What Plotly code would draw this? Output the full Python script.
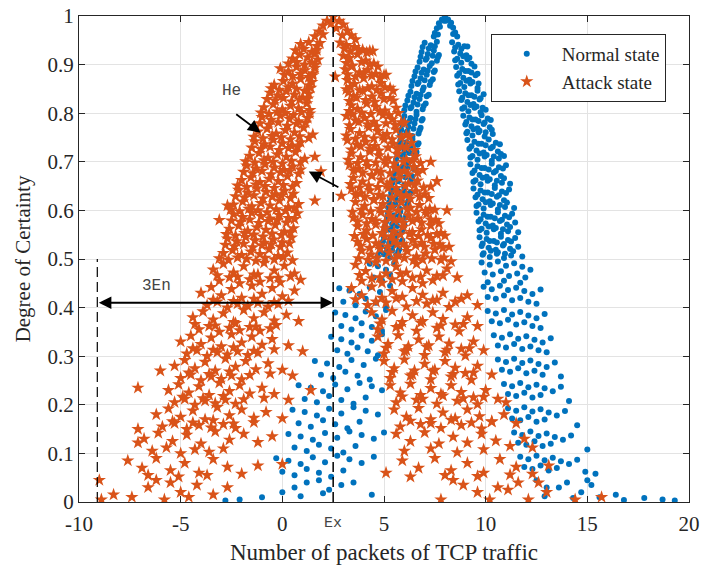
import plotly.graph_objects as go

# ================= data =================
# ---- Attack state (orange stars), upper part (y >= 0.5), band by band ----
attack_upper_x = [
    2.5, 2.2, 2.8, 2.0, 3.0, 2.4, 2.65, 1.8, 3.2, 2.95, 1.6, 3.4, 2.0, 3.6,
    0.9, 1.3, 1.7, 1.85, 2.85, 3.15, 3.55, 3.95, 4.3, 0.5, 0.85, 1.25, 1.6, 1.75, 3.0, 3.3, 3.7, 4.1, 4.5,
    -0.1, 0.3, 0.7, 1.1, 1.5, 1.6, 3.1, 3.4, 3.8, 4.2, 4.6, 5.0, -0.4, 0.05, 0.5, 0.9, 1.3, 1.45, 3.2, 3.55, 4.0, 4.4, 4.85, 5.3,
    -0.6, -0.2, 0.2, 0.6, 1.0, 1.3, 3.25, 3.5, 3.95, 4.4, 4.85, 5.3, -0.9, -0.45, 0.0, 0.4, 0.8, 1.2, 1.35, 3.4, 3.7, 4.15, 4.6, 5.05, 5.6,
    -1.0, -0.55, -0.1, 0.35, 0.8, 1.25, 3.15, 3.6, 4.05, 4.5, 4.95, 5.4, 5.85, -1.2, -0.75, -0.3, 0.15, 0.6, 1.05, 1.5, 3.35, 3.8, 4.25, 4.7, 5.15, 5.6, 6.1,
    -1.35, -0.9, -0.45, 0.0, 0.45, 0.9, 3.2, 3.65, 4.1, 4.55, 5.0, 5.45, 5.9, 6.35, -1.6, -1.15, -0.7, -0.25, 0.2, 0.65, 1.1, 3.4, 3.85, 4.3, 4.75, 5.2, 5.65, 6.1, 6.55,
    -1.75, -1.3, -0.85, -0.4, 0.05, 0.5, 0.9, 3.3, 3.75, 4.2, 4.65, 5.1, 5.55, 6.0, 6.45, 6.9, -2.0, -1.55, -1.1, -0.65, -0.2, 0.25, 0.7, 3.5, 3.95, 4.4, 4.85, 5.3, 5.75, 6.2, 6.65,
    -2.15, -1.7, -1.25, -0.8, -0.35, 0.1, 0.55, 3.4, 3.85, 4.3, 4.75, 5.2, 5.65, 6.1, 6.55, 7.0, -2.4, -1.95, -1.5, -1.05, -0.6, -0.15, 0.3, 0.8, 3.6, 4.05, 4.5, 4.95, 5.4, 5.85, 6.3, 6.75, 7.25,
    -2.4, -1.95, -1.5, -1.05, -0.6, -0.15, 0.3, 0.75, 3.5, 3.95, 4.4, 4.85, 5.3, 5.75, 6.2, 6.65, 7.1, 7.55, -2.6, -2.15, -1.7, -1.25, -0.8, -0.35, 0.1, 0.55, 3.7, 4.15, 4.6, 5.05, 5.5, 5.95, 6.4, 6.85, 7.3, 7.8,
    -2.7, -2.25, -1.8, -1.35, -0.9, -0.45, 0.0, 0.45, 3.7, 4.15, 4.6, 5.05, 5.5, 5.95, 6.4, 6.85, 7.3, 7.75, -2.9, -2.45, -2.0, -1.55, -1.1, -0.65, -0.2, 0.25, 3.9, 4.35, 4.8, 5.25, 5.7, 6.15, 6.6, 7.05, 7.5, 7.95, 8.2,
    2.6, 1.6, 1.9, 2.9, 1.6, 7.6, 8.1, 7.3, -2.7, -3.1,
]
attack_upper_y = [
    0.998, 0.99, 0.99, 0.98, 0.982, 0.985, 0.975, 0.968, 0.97, 0.96, 0.958, 0.96, 0.962, 0.952,
    0.942, 0.946, 0.938, 0.944, 0.945, 0.94, 0.936, 0.93, 0.928, 0.912, 0.92, 0.915, 0.922, 0.91, 0.918, 0.913, 0.921, 0.908, 0.902,
    0.892, 0.886, 0.895, 0.888, 0.882, 0.893, 0.89, 0.896, 0.884, 0.889, 0.881, 0.878, 0.858, 0.866, 0.861, 0.87, 0.857, 0.864, 0.868, 0.86, 0.872, 0.855, 0.862, 0.852,
    0.842, 0.836, 0.845, 0.838, 0.832, 0.84, 0.843, 0.835, 0.846, 0.834, 0.84, 0.831, 0.812, 0.818, 0.808, 0.815, 0.81, 0.82, 0.806, 0.816, 0.809, 0.82, 0.813, 0.805, 0.811,
    0.792, 0.786, 0.795, 0.788, 0.783, 0.79, 0.794, 0.785, 0.79, 0.782, 0.796, 0.787, 0.781, 0.762, 0.768, 0.758, 0.765, 0.76, 0.77, 0.756, 0.767, 0.759, 0.771, 0.763, 0.757, 0.766, 0.755,
    0.742, 0.736, 0.745, 0.738, 0.733, 0.74, 0.744, 0.735, 0.741, 0.732, 0.746, 0.737, 0.731, 0.739, 0.712, 0.718, 0.708, 0.715, 0.71, 0.72, 0.706, 0.717, 0.709, 0.721, 0.713, 0.707, 0.716, 0.705, 0.711,
    0.692, 0.686, 0.695, 0.688, 0.683, 0.69, 0.684, 0.694, 0.685, 0.691, 0.682, 0.696, 0.687, 0.681, 0.689, 0.683, 0.662, 0.668, 0.658, 0.665, 0.66, 0.67, 0.656, 0.667, 0.659, 0.671, 0.663, 0.657, 0.666, 0.655, 0.661,
    0.642, 0.636, 0.645, 0.638, 0.633, 0.64, 0.634, 0.644, 0.635, 0.641, 0.632, 0.646, 0.637, 0.631, 0.639, 0.633, 0.612, 0.618, 0.608, 0.615, 0.61, 0.62, 0.606, 0.613, 0.617, 0.609, 0.621, 0.613, 0.607, 0.616, 0.605, 0.611, 0.603,
    0.592, 0.586, 0.595, 0.588, 0.583, 0.59, 0.584, 0.594, 0.585, 0.591, 0.582, 0.596, 0.587, 0.581, 0.589, 0.583, 0.593, 0.58, 0.562, 0.568, 0.558, 0.565, 0.56, 0.57, 0.556, 0.563, 0.567, 0.559, 0.571, 0.563, 0.557, 0.566, 0.555, 0.561, 0.569, 0.553,
    0.542, 0.536, 0.545, 0.538, 0.533, 0.54, 0.534, 0.544, 0.535, 0.541, 0.532, 0.546, 0.537, 0.531, 0.539, 0.533, 0.543, 0.53, 0.512, 0.518, 0.508, 0.515, 0.51, 0.52, 0.506, 0.513, 0.517, 0.509, 0.521, 0.513, 0.507, 0.516, 0.505, 0.511, 0.519, 0.503, 0.525,
    0.875, 0.71, 0.68, 0.63, 0.62, 0.66, 0.60, 0.70, 0.61, 0.58,
]

# ---- Attack state, extra drops inside the dense bands ----
attack_dense_x = [
    0.65, 1.05, 1.45, 1.7, 3.05, 3.35, 3.75, 4.15, 4.45, 0.3, 0.7, 1.1, 1.45, 1.6, 3.15, 3.45, 3.9, 4.3, 4.7,
    0.1, 0.5, 0.9, 1.3, 1.5, 3.2, 3.6, 4.0, 4.4, 4.8, 5.1, -0.55, -0.15, 0.3, 0.7, 1.1, 1.4, 3.15, 3.35, 3.8, 4.2, 4.65, 5.05, 5.45,
    -0.75, -0.35, 0.05, 0.45, 0.85, 1.25, 3.3, 3.65, 4.1, 4.55, 5.0, 5.45, -1.05, -0.65, -0.25, 0.15, 0.55, 0.95, 1.35, 3.3, 3.45, 3.9, 4.35, 4.8, 5.25, 5.7,
    -1.1, -0.65, -0.2, 0.25, 0.7, 1.15, 3.3, 3.75, 4.2, 4.65, 5.1, 5.55, 6.0, -1.4, -0.95, -0.5, -0.05, 0.4, 0.85, 1.3, 3.15, 3.6, 4.05, 4.5, 4.95, 5.4, 5.85, 6.25,
    -1.5, -1.05, -0.6, -0.15, 0.3, 0.75, 3.4, 3.85, 4.3, 4.75, 5.2, 5.65, 6.1, 6.5, -1.8, -1.35, -0.9, -0.45, 0.0, 0.45, 0.9, 3.25, 3.7, 4.15, 4.6, 5.05, 5.5, 5.95, 6.4, 6.8,
    -1.9, -1.45, -1.0, -0.55, -0.1, 0.35, 0.8, 3.5, 3.95, 4.4, 4.85, 5.3, 5.75, 6.2, 6.65, -2.2, -1.75, -1.3, -0.85, -0.4, 0.05, 0.5, 3.35, 3.8, 4.25, 4.7, 5.15, 5.6, 6.05, 6.5, 6.95, 7.3,
    -2.3, -1.85, -1.4, -0.95, -0.5, -0.05, 0.4, 3.6, 4.05, 4.5, 4.95, 5.4, 5.85, 6.3, 6.75, 7.2, -2.55, -2.1, -1.65, -1.2, -0.75, -0.3, 0.15, 0.6, 3.45, 3.9, 4.35, 4.8, 5.25, 5.7, 6.15, 6.6, 7.05, 7.5,
    -2.5, -2.05, -1.6, -1.15, -0.7, -0.25, 0.2, 0.6, 3.7, 4.15, 4.6, 5.05, 5.5, 5.95, 6.4, 6.85, 7.3, 7.7, -2.75, -2.3, -1.85, -1.4, -0.95, -0.5, -0.05, 0.4, 3.55, 4.0, 4.45, 4.9, 5.35, 5.8, 6.25, 6.7, 7.15, 7.6, 8.0,
    -2.8, -2.35, -1.9, -1.45, -1.0, -0.55, -0.1, 0.35, 3.85, 4.3, 4.75, 5.2, 5.65, 6.1, 6.55, 7.0, 7.45, 7.9, -3.1, -2.65, -2.2, -1.75, -1.3, -0.85, -0.4, 0.05, 0.5, 3.75, 4.2, 4.65, 5.1, 5.55, 6.0, 6.45, 6.9, 7.35, 7.8, 8.3,
    -3.2, -2.2, -1.2, -0.2, 0.4, 3.8, 4.8, 5.8, 6.8, 7.9,
    -3.4, -2.4, -1.4, -0.4, 0.3, 3.6, 4.6, 5.6, 6.6, 7.6, 8.8,
    -4.3, -3.3, -2.3, -1.3, -0.3, 4.8, 5.8, 6.8, 7.8, 8.9,
    -4.4, -3.4, -2.4, -1.4, -0.4, 5.1, 6.1, 7.1, 8.1, 9.2,
    -4.6, -3.6, -2.6, -1.6, -0.6, 5.4, 6.4, 7.4, 8.4, 9.4,
    -4.9, -3.9, -2.9, -1.9, -0.9, 5.9, 6.9, 7.9, 8.9, 9.9,
    -5.4, -4.4, -3.4, -2.4, -1.4, 6.3, 7.3, 8.3, 9.3, 10.3,
]
attack_dense_y = [
    0.929, 0.932, 0.926, 0.93, 0.933, 0.927, 0.931, 0.925, 0.928, 0.902, 0.905, 0.9, 0.904, 0.899, 0.903, 0.898, 0.905, 0.9, 0.896,
    0.879, 0.876, 0.881, 0.874, 0.878, 0.88, 0.875, 0.882, 0.877, 0.873, 0.879, 0.851, 0.848, 0.853, 0.85, 0.846, 0.852, 0.849, 0.854, 0.847, 0.851, 0.848, 0.853, 0.846,
    0.829, 0.826, 0.831, 0.824, 0.828, 0.83, 0.825, 0.832, 0.827, 0.823, 0.829, 0.826, 0.801, 0.798, 0.803, 0.8, 0.796, 0.802, 0.799, 0.804, 0.797, 0.801, 0.798, 0.803, 0.796, 0.8,
    0.779, 0.776, 0.781, 0.774, 0.778, 0.78, 0.775, 0.782, 0.777, 0.773, 0.779, 0.776, 0.78, 0.751, 0.748, 0.753, 0.75, 0.746, 0.752, 0.749, 0.754, 0.747, 0.751, 0.748, 0.753, 0.746, 0.75, 0.752,
    0.729, 0.726, 0.731, 0.724, 0.728, 0.73, 0.725, 0.732, 0.727, 0.723, 0.729, 0.726, 0.73, 0.724, 0.701, 0.698, 0.703, 0.7, 0.696, 0.702, 0.699, 0.704, 0.697, 0.701, 0.698, 0.703, 0.696, 0.7, 0.702, 0.697,
    0.679, 0.676, 0.681, 0.674, 0.678, 0.68, 0.675, 0.682, 0.677, 0.673, 0.679, 0.676, 0.68, 0.674, 0.678, 0.651, 0.648, 0.653, 0.65, 0.646, 0.652, 0.649, 0.654, 0.647, 0.651, 0.648, 0.653, 0.646, 0.65, 0.652, 0.647, 0.649,
    0.629, 0.626, 0.631, 0.624, 0.628, 0.63, 0.625, 0.632, 0.627, 0.623, 0.629, 0.626, 0.63, 0.624, 0.628, 0.625, 0.601, 0.598, 0.603, 0.6, 0.596, 0.602, 0.599, 0.604, 0.597, 0.601, 0.598, 0.603, 0.596, 0.6, 0.602, 0.597, 0.599, 0.601,
    0.579, 0.576, 0.581, 0.574, 0.578, 0.58, 0.575, 0.582, 0.577, 0.573, 0.579, 0.576, 0.58, 0.574, 0.578, 0.575, 0.581, 0.573, 0.551, 0.548, 0.553, 0.55, 0.546, 0.552, 0.549, 0.554, 0.547, 0.551, 0.548, 0.553, 0.546, 0.55, 0.552, 0.547, 0.549, 0.551, 0.548,
    0.529, 0.526, 0.531, 0.524, 0.528, 0.53, 0.525, 0.532, 0.527, 0.523, 0.529, 0.526, 0.53, 0.524, 0.528, 0.525, 0.531, 0.523, 0.501, 0.498, 0.503, 0.5, 0.496, 0.502, 0.499, 0.504, 0.497, 0.501, 0.498, 0.503, 0.496, 0.5, 0.502, 0.497, 0.499, 0.501, 0.498, 0.495,
    0.466, 0.463, 0.468, 0.461, 0.464, 0.467, 0.462, 0.469, 0.463, 0.466,
    0.416, 0.413, 0.418, 0.411, 0.414, 0.417, 0.412, 0.419, 0.413, 0.416, 0.418,
    0.366, 0.363, 0.368, 0.361, 0.364, 0.367, 0.362, 0.369, 0.363, 0.366,
    0.316, 0.313, 0.318, 0.311, 0.314, 0.317, 0.312, 0.319, 0.313, 0.316,
    0.266, 0.263, 0.268, 0.261, 0.264, 0.267, 0.262, 0.269, 0.263, 0.266,
    0.216, 0.213, 0.218, 0.211, 0.214, 0.217, 0.212, 0.219, 0.213, 0.216,
    0.166, 0.163, 0.168, 0.161, 0.164, 0.167, 0.162, 0.169, 0.163, 0.166,
]

# ---- Attack state, lower part (y < 0.5) ----
attack_lower_x = [
    -3.4, -2.9, -2.4, -1.9, -1.4, -0.9, -0.4, 0.1, 0.6, -3.1, -2.6, -2.1, -1.6, -1.1, -0.6, -0.1, 0.9, 3.6, 4.1, 4.6, 5.1, 5.6, 6.1, 6.6, 7.1, 7.6, 8.1, 8.6, 3.9, 4.4, 4.9, 5.4, 5.9, 6.4, 6.9, 7.4,
    -4.0, -3.5, -3.0, -2.5, -2.0, -1.5, -1.0, -0.5, 0.0, 0.6, -3.7, -3.2, -2.7, -2.2, -1.7, -1.2, -0.7, -0.2, 3.4, 3.9, 4.4, 4.9, 5.4, 5.9, 6.4, 6.9, 7.4, 7.9, 8.5, 9.1, 9.6, 4.2, 5.1, 6.1, 7.1, 8.2,
    -4.4, -3.9, -3.4, -2.9, -2.4, -1.9, -1.4, -0.9, -0.4, 0.2, 0.8, -4.1, -3.6, -3.1, -2.6, -2.1, -1.6, -1.1, -0.6, 4.4, 4.9, 5.4, 5.9, 6.4, 6.9, 7.4, 7.9, 8.5, 9.1, 9.6, 4.7, 5.6, 6.6, 7.6, 8.7,
    -5.0, -4.5, -4.0, -3.5, -3.0, -2.5, -2.0, -1.5, -1.0, -0.5, 0.3, 1.0, -4.7, -4.2, -3.7, -3.2, -2.7, -2.2, -1.7, -1.2, 4.7, 5.2, 5.7, 6.2, 6.7, 7.2, 7.7, 8.2, 8.8, 9.4, 9.9, 5.0, 6.0, 7.0, 8.0, 9.0,
    -5.3, -4.8, -4.3, -3.8, -3.3, -2.8, -2.3, -1.8, -1.3, -0.7, 0.0, 0.5, -5.0, -4.5, -4.0, -3.5, -3.0, -2.5, -2.0, -6.0, 5.0, 5.5, 6.0, 6.5, 7.0, 7.5, 8.0, 8.5, 9.0, 9.6, 10.3, 5.3, 6.3, 7.3, 8.3, 9.3,
    -5.6, -5.1, -4.6, -4.1, -3.6, -3.1, -2.6, -2.1, -1.6, -1.0, -0.4, 0.3, -5.3, -4.8, -4.3, -3.8, -3.3, -2.8, -2.3, -7.1, 1.4, 5.3, 5.8, 6.3, 6.8, 7.3, 7.8, 8.3, 8.8, 9.4, 10.0, 10.6, 11.0, 5.6, 6.6, 7.6, 8.6, 9.6,
    -6.2, -5.6, -5.0, -4.4, -3.8, -3.2, -2.6, -2.0, -1.4, -0.8, 0.0, -5.9, -5.3, -4.7, -4.1, -3.5, -2.9, -2.3, -7.1, 5.5, 6.1, 6.7, 7.3, 7.9, 8.5, 9.1, 9.7, 10.3, 10.9, 11.5, 5.8, 6.8, 7.8, 8.8, 9.8,
    -6.8, -6.1, -5.4, -4.7, -4.0, -3.3, -2.6, -1.9, -1.2, -0.5, -6.4, -5.7, -5.0, -4.3, -3.6, -2.9, -7.1, 5.6, 6.3, 7.0, 7.7, 8.4, 9.1, 9.8, 10.5, 11.2, 11.9, 12.3, 6.0, 7.3, 8.6, 9.9,
    -7.6, -6.9, -6.2, -5.5, -4.8, -4.1, -3.4, -2.7, -2.0, -1.2, 0.0, -6.6, -5.1, -3.7, 5.1, 5.9, 6.7, 7.5, 8.3, 9.1, 9.9, 10.7, 11.5, 12.3, 13.1, 6.3, 8.0, 9.6, 11.2,
    -9.0, -8.9, -8.3, -7.4, -6.6, -5.8, -5.0, -4.2, -3.4, -2.7, -6.2, -5.5, -4.6, 7.8, 8.9, 10.2, 11.1, 12.1, 13.0, 14.4, 15.7, 9.6, 11.6, 8.4, 10.6, 12.6,
]
attack_lower_y = [
    0.478, 0.49, 0.472, 0.485, 0.468, 0.492, 0.476, 0.486, 0.47, 0.455, 0.462, 0.45, 0.458, 0.453, 0.46, 0.452, 0.457, 0.488, 0.475, 0.493, 0.47, 0.484, 0.472, 0.49, 0.476, 0.465, 0.48, 0.462, 0.455, 0.46, 0.451, 0.458, 0.454, 0.461, 0.45, 0.456,
    0.43, 0.442, 0.425, 0.438, 0.42, 0.445, 0.428, 0.44, 0.423, 0.435, 0.405, 0.412, 0.40, 0.408, 0.403, 0.41, 0.402, 0.407, 0.44, 0.425, 0.443, 0.42, 0.434, 0.422, 0.44, 0.426, 0.415, 0.43, 0.412, 0.425, 0.405, 0.405, 0.41, 0.402, 0.408, 0.401,
    0.38, 0.392, 0.375, 0.388, 0.37, 0.395, 0.378, 0.39, 0.373, 0.385, 0.372, 0.355, 0.362, 0.35, 0.358, 0.353, 0.36, 0.352, 0.357, 0.39, 0.375, 0.393, 0.37, 0.384, 0.372, 0.39, 0.376, 0.365, 0.38, 0.362, 0.355, 0.36, 0.352, 0.358, 0.351,
    0.33, 0.342, 0.325, 0.338, 0.32, 0.345, 0.328, 0.34, 0.323, 0.335, 0.322, 0.31, 0.305, 0.312, 0.30, 0.308, 0.303, 0.31, 0.302, 0.307, 0.34, 0.325, 0.343, 0.32, 0.334, 0.322, 0.34, 0.326, 0.315, 0.33, 0.312, 0.305, 0.31, 0.302, 0.308, 0.301,
    0.28, 0.292, 0.275, 0.288, 0.27, 0.295, 0.278, 0.29, 0.273, 0.285, 0.272, 0.26, 0.255, 0.262, 0.25, 0.258, 0.253, 0.26, 0.252, 0.27, 0.29, 0.275, 0.293, 0.27, 0.284, 0.272, 0.29, 0.276, 0.265, 0.28, 0.262, 0.255, 0.26, 0.252, 0.258, 0.251,
    0.23, 0.242, 0.225, 0.238, 0.22, 0.245, 0.228, 0.24, 0.223, 0.235, 0.222, 0.21, 0.205, 0.212, 0.20, 0.208, 0.203, 0.21, 0.202, 0.235, 0.23, 0.24, 0.225, 0.243, 0.22, 0.234, 0.222, 0.24, 0.226, 0.215, 0.23, 0.212, 0.205, 0.205, 0.21, 0.202, 0.208, 0.201,
    0.18, 0.192, 0.175, 0.188, 0.17, 0.195, 0.178, 0.19, 0.173, 0.185, 0.172, 0.155, 0.162, 0.15, 0.158, 0.153, 0.16, 0.152, 0.15, 0.19, 0.175, 0.193, 0.17, 0.184, 0.172, 0.19, 0.176, 0.165, 0.18, 0.162, 0.155, 0.16, 0.152, 0.158, 0.151,
    0.13, 0.142, 0.125, 0.138, 0.12, 0.145, 0.128, 0.14, 0.123, 0.135, 0.105, 0.112, 0.10, 0.108, 0.103, 0.11, 0.122, 0.14, 0.125, 0.143, 0.12, 0.134, 0.122, 0.14, 0.126, 0.115, 0.13, 0.112, 0.105, 0.11, 0.102, 0.108,
    0.085, 0.07, 0.09, 0.065, 0.08, 0.06, 0.088, 0.072, 0.058, 0.075, 0.078, 0.055, 0.052, 0.055, 0.06, 0.085, 0.07, 0.09, 0.065, 0.08, 0.06, 0.088, 0.072, 0.058, 0.075, 0.052, 0.055, 0.053, 0.056,
    0.045, 0.005, 0.015, 0.01, 0.03, 0.005, 0.02, 0.035, 0.015, 0.03, 0.045, 0.04, 0.01, 0.005, 0.035, 0.005, 0.025, 0.005, 0.02, 0.005, 0.01, 0.02, 0.04, 0.045, 0.03, 0.04,
]

# ---- Normal state (blue dots), upper part (y >= 0.5) ----
normal_upper_x = [
    8.0, 7.85, 8.15, 7.7, 8.3, 7.6, 8.4, 7.95, 8.05, 7.5, 8.5, 7.75, 8.25, 7.45, 8.6, 7.65, 8.4,
    7.0, 7.3, 7.6, 8.35, 8.65, 8.95, 6.85, 7.15, 7.45, 7.7, 8.45, 8.75, 9.05, 6.75, 7.05, 7.35, 7.6, 8.5, 8.8, 9.1, 9.3,
    6.65, 6.95, 7.25, 7.5, 8.55, 8.85, 9.15, 9.45, 6.5, 6.8, 7.1, 7.4, 8.6, 8.9, 9.2, 9.5, 6.35, 6.65, 6.95, 7.25, 8.65, 8.95, 9.25, 9.6,
    6.3, 6.6, 6.9, 7.2, 8.7, 9.0, 9.3, 9.6, 9.9, 6.15, 6.45, 6.75, 7.05, 8.8, 9.1, 9.4, 9.7, 6.0, 6.3, 6.6, 6.9, 8.85, 9.15, 9.45, 9.75, 10.0,
    6.0, 6.3, 6.6, 6.9, 8.9, 9.2, 9.5, 9.8, 10.1, 5.9, 6.2, 6.5, 6.8, 9.0, 9.3, 9.6, 9.9, 10.2, 5.8, 6.1, 6.4, 6.7, 9.05, 9.35, 9.65, 9.95, 10.35,
    5.8, 6.1, 6.4, 6.7, 9.1, 9.45, 9.8, 10.15, 10.5, 5.7, 6.0, 6.3, 6.6, 9.2, 9.55, 9.9, 10.25, 10.6, 5.6, 5.9, 6.2, 6.5, 9.25, 9.6, 9.95, 10.3, 10.65, 10.9,
    5.6, 5.9, 6.2, 6.5, 9.25, 9.6, 9.95, 10.3, 10.65, 11.0, 5.5, 5.8, 6.1, 6.4, 9.35, 9.7, 10.05, 10.4, 10.75, 5.4, 5.7, 6.0, 6.3, 9.4, 9.75, 10.1, 10.45, 10.8, 11.2,
    5.4, 5.7, 6.0, 6.3, 9.4, 9.75, 10.1, 10.45, 10.8, 11.15, 5.3, 5.6, 5.9, 6.2, 9.5, 9.85, 10.2, 10.55, 10.9, 5.2, 5.5, 5.8, 6.1, 9.55, 9.9, 10.25, 10.6, 10.95, 11.4,
    5.2, 5.5, 5.8, 6.1, 9.55, 9.9, 10.25, 10.6, 10.95, 11.3, 5.1, 5.4, 5.7, 6.0, 9.65, 10.0, 10.35, 10.7, 11.05, 11.45, 5.0, 5.3, 5.6, 5.9, 9.7, 10.05, 10.4, 10.75, 11.1, 11.6,
    5.0, 5.3, 5.6, 5.9, 9.7, 10.05, 10.4, 10.75, 11.1, 11.45, 4.85, 5.15, 5.45, 5.75, 9.8, 10.15, 10.5, 10.85, 11.2, 11.6, 4.7, 5.0, 5.3, 5.6, 9.85, 10.2, 10.55, 10.9, 11.25, 11.8,
]
normal_upper_y = [
    0.998, 0.993, 0.993, 0.985, 0.986, 0.975, 0.976, 0.99, 0.99, 0.965, 0.966, 0.978, 0.98, 0.958, 0.958, 0.962, 0.963,
    0.945, 0.94, 0.947, 0.946, 0.941, 0.938, 0.926, 0.922, 0.929, 0.92, 0.927, 0.923, 0.919, 0.906, 0.91, 0.903, 0.908, 0.909, 0.904, 0.911, 0.902,
    0.894, 0.89, 0.897, 0.888, 0.895, 0.891, 0.887, 0.896, 0.876, 0.872, 0.879, 0.87, 0.877, 0.873, 0.869, 0.878, 0.856, 0.86, 0.853, 0.858, 0.859, 0.854, 0.861, 0.852,
    0.844, 0.84, 0.847, 0.838, 0.845, 0.841, 0.837, 0.846, 0.839, 0.826, 0.822, 0.829, 0.82, 0.827, 0.823, 0.819, 0.828, 0.806, 0.81, 0.803, 0.808, 0.809, 0.804, 0.811, 0.802, 0.807,
    0.794, 0.79, 0.797, 0.788, 0.795, 0.791, 0.787, 0.796, 0.789, 0.776, 0.772, 0.779, 0.77, 0.777, 0.773, 0.769, 0.778, 0.771, 0.756, 0.76, 0.753, 0.758, 0.759, 0.754, 0.761, 0.752, 0.757,
    0.744, 0.74, 0.747, 0.738, 0.745, 0.741, 0.737, 0.746, 0.739, 0.726, 0.722, 0.729, 0.72, 0.727, 0.723, 0.719, 0.728, 0.721, 0.706, 0.71, 0.703, 0.708, 0.709, 0.704, 0.711, 0.702, 0.707, 0.712,
    0.694, 0.69, 0.697, 0.688, 0.695, 0.691, 0.687, 0.696, 0.689, 0.693, 0.676, 0.672, 0.679, 0.67, 0.677, 0.673, 0.669, 0.678, 0.671, 0.656, 0.66, 0.653, 0.658, 0.659, 0.654, 0.661, 0.652, 0.657, 0.655,
    0.644, 0.64, 0.647, 0.638, 0.645, 0.641, 0.637, 0.646, 0.639, 0.643, 0.626, 0.622, 0.629, 0.62, 0.627, 0.623, 0.619, 0.628, 0.621, 0.606, 0.61, 0.603, 0.608, 0.609, 0.604, 0.611, 0.602, 0.607, 0.605,
    0.594, 0.59, 0.597, 0.588, 0.595, 0.591, 0.587, 0.596, 0.589, 0.593, 0.576, 0.572, 0.579, 0.57, 0.577, 0.573, 0.569, 0.578, 0.571, 0.575, 0.556, 0.56, 0.553, 0.558, 0.559, 0.554, 0.561, 0.552, 0.557, 0.555,
    0.544, 0.54, 0.547, 0.538, 0.545, 0.541, 0.537, 0.546, 0.539, 0.543, 0.526, 0.522, 0.529, 0.52, 0.527, 0.523, 0.519, 0.528, 0.521, 0.525, 0.506, 0.51, 0.503, 0.508, 0.509, 0.504, 0.511, 0.502, 0.507, 0.505,
]

# ---- Normal state, extra drops inside the dense bands ----
normal_dense_x = [
    6.9, 7.2, 7.5, 8.5, 8.8, 9.1, 6.8, 7.1, 7.4, 7.65, 8.6, 8.9, 9.2,
    6.55, 6.85, 7.15, 7.45, 8.7, 9.0, 9.3, 9.6, 6.4, 6.7, 7.0, 7.3, 8.75, 9.05, 9.35, 9.65,
    6.2, 6.5, 6.8, 7.1, 8.85, 9.15, 9.45, 9.75, 6.05, 6.35, 6.65, 6.95, 8.95, 9.25, 9.55, 9.85,
    5.95, 6.25, 6.55, 6.85, 9.05, 9.35, 9.65, 9.95, 10.25, 5.85, 6.15, 6.45, 6.75, 9.1, 9.4, 9.7, 10.0, 10.3,
    5.75, 6.05, 6.35, 6.65, 9.3, 9.65, 10.0, 10.35, 10.7, 5.65, 5.95, 6.25, 6.55, 9.35, 9.7, 10.05, 10.4, 10.75,
    5.55, 5.85, 6.15, 6.45, 9.45, 9.8, 10.15, 10.5, 10.85, 5.45, 5.75, 6.05, 6.35, 9.5, 9.85, 10.2, 10.55, 10.9,
    5.35, 5.65, 5.95, 6.25, 9.6, 9.95, 10.3, 10.65, 11.0, 5.25, 5.55, 5.85, 6.15, 9.65, 10.0, 10.35, 10.7, 11.05,
    5.15, 5.45, 5.75, 6.05, 9.75, 10.1, 10.45, 10.8, 11.15, 5.05, 5.35, 5.65, 5.95, 9.8, 10.15, 10.5, 10.85, 11.2,
    4.95, 5.25, 5.55, 5.85, 9.85, 10.2, 10.55, 10.9, 11.25, 4.8, 5.1, 5.4, 5.7, 9.9, 10.25, 10.6, 10.95, 11.35,
]
normal_dense_y = [
    0.936, 0.933, 0.938, 0.935, 0.932, 0.937, 0.916, 0.913, 0.918, 0.915, 0.912, 0.917, 0.914,
    0.886, 0.883, 0.888, 0.885, 0.882, 0.887, 0.884, 0.881, 0.866, 0.863, 0.868, 0.865, 0.862, 0.867, 0.864, 0.861,
    0.836, 0.833, 0.838, 0.835, 0.832, 0.837, 0.834, 0.831, 0.816, 0.813, 0.818, 0.815, 0.812, 0.817, 0.814, 0.811,
    0.786, 0.783, 0.788, 0.785, 0.782, 0.787, 0.784, 0.781, 0.786, 0.766, 0.763, 0.768, 0.765, 0.762, 0.767, 0.764, 0.761, 0.766,
    0.736, 0.733, 0.738, 0.735, 0.732, 0.737, 0.734, 0.731, 0.736, 0.716, 0.713, 0.718, 0.715, 0.712, 0.717, 0.714, 0.711, 0.716,
    0.686, 0.683, 0.688, 0.685, 0.682, 0.687, 0.684, 0.681, 0.686, 0.666, 0.663, 0.668, 0.665, 0.662, 0.667, 0.664, 0.661, 0.666,
    0.636, 0.633, 0.638, 0.635, 0.632, 0.637, 0.634, 0.631, 0.636, 0.616, 0.613, 0.618, 0.615, 0.612, 0.617, 0.614, 0.611, 0.616,
    0.586, 0.583, 0.588, 0.585, 0.582, 0.587, 0.584, 0.581, 0.586, 0.566, 0.563, 0.568, 0.565, 0.562, 0.567, 0.564, 0.561, 0.566,
    0.536, 0.533, 0.538, 0.535, 0.532, 0.537, 0.534, 0.531, 0.536, 0.516, 0.513, 0.518, 0.515, 0.512, 0.517, 0.514, 0.511, 0.516,
]

# ---- Normal state, lower part (y < 0.5) ----
normal_lower_x = [
    4.3, 4.7, 5.1, 5.5, 4.5, 4.9, 5.3, 9.8, 10.2, 10.6, 11.0, 11.4, 11.8, 12.2, 9.95, 10.35, 10.75, 11.15, 11.55, 11.95, 10.1, 10.9, 11.7,
    2.8, 3.3, 3.8, 4.3, 4.8, 5.3, 3.0, 3.6, 4.1, 4.6, 5.1, 9.9, 10.3, 10.7, 11.1, 11.5, 11.9, 12.3, 12.7, 10.1, 10.5, 10.9, 11.3, 11.7, 12.1, 12.5,
    2.6, 3.1, 3.6, 4.1, 4.6, 5.1, 2.9, 3.4, 3.9, 4.4, 4.9, 10.1, 10.5, 10.9, 11.3, 11.7, 12.1, 12.5, 12.9, 10.3, 10.7, 11.1, 11.5, 11.9, 12.3, 12.7,
    2.4, 2.9, 3.4, 3.9, 4.4, 4.9, 2.7, 3.2, 3.7, 4.2, 4.7, 10.4, 10.8, 11.2, 11.6, 12.0, 12.4, 12.8, 13.2, 10.6, 11.0, 11.4, 11.8, 12.2, 12.6, 13.0,
    1.6, 2.2, 2.8, 3.4, 4.0, 4.6, 1.9, 2.5, 3.1, 3.7, 4.3, 10.6, 11.0, 11.4, 11.8, 12.2, 12.6, 13.0, 13.4, 10.8, 11.2, 11.6, 12.0, 12.4, 12.8, 13.7,
    0.8, 1.4, 2.0, 2.6, 3.2, 3.8, 4.4, 4.9, 1.1, 1.7, 2.3, 2.9, 3.5, 4.1, 10.9, 11.3, 11.7, 12.1, 12.5, 12.9, 13.3, 13.7, 11.1, 11.5, 11.9, 12.3, 12.7, 14.1,
    0.5, 1.1, 1.7, 2.3, 2.9, 3.5, 4.1, 4.7, 0.8, 1.4, 2.0, 2.6, 3.2, 3.8, 11.1, 11.5, 11.9, 12.3, 12.7, 13.1, 13.5, 13.9, 11.3, 11.7, 12.1, 12.5, 12.9, 14.5,
    0.3, 0.9, 1.5, 2.1, 2.7, 3.3, 3.9, 4.5, 5.0, 0.6, 1.2, 1.8, 2.4, 3.0, 3.6, 11.4, 11.8, 12.2, 12.6, 13.0, 13.4, 13.8, 14.2, 11.6, 12.0, 12.4, 12.8, 13.2, 15.0,
    -0.3, 0.3, 0.9, 1.5, 2.1, 2.7, 3.3, 3.9, 4.5, 0.0, 0.6, 1.2, 1.8, 2.4, 3.0, 11.7, 12.1, 12.5, 12.9, 13.3, 13.7, 14.1, 14.5, 11.9, 12.3, 12.7, 13.1, 13.5, 14.9, 15.4,
    -2.8, -2.1, -1.0, 0.0, 0.6, 1.2, 1.8, 2.3, 2.9, 3.5, 4.4, 0.9, 2.0, 12.5, 13.0, 13.6, 14.0, 14.7, 15.2, 15.6, 16.4, 16.8, 17.8, 18.7, 19.3, 12.9, 14.3, 15.0,
]
normal_lower_y = [
    0.49, 0.485, 0.478, 0.492, 0.462, 0.455, 0.468, 0.493, 0.488, 0.495, 0.486, 0.491, 0.484, 0.478, 0.472, 0.468, 0.475, 0.465, 0.47, 0.462, 0.452, 0.455, 0.451,
    0.44, 0.435, 0.428, 0.442, 0.432, 0.445, 0.412, 0.405, 0.418, 0.41, 0.402, 0.443, 0.438, 0.445, 0.436, 0.441, 0.434, 0.428, 0.437, 0.422, 0.418, 0.425, 0.415, 0.42, 0.412, 0.408,
    0.39, 0.385, 0.378, 0.392, 0.382, 0.395, 0.362, 0.355, 0.368, 0.36, 0.352, 0.393, 0.388, 0.395, 0.386, 0.391, 0.384, 0.378, 0.387, 0.372, 0.368, 0.375, 0.365, 0.37, 0.362, 0.358,
    0.34, 0.335, 0.328, 0.342, 0.332, 0.345, 0.312, 0.305, 0.318, 0.31, 0.302, 0.343, 0.338, 0.345, 0.336, 0.341, 0.334, 0.328, 0.337, 0.322, 0.318, 0.325, 0.315, 0.32, 0.312, 0.308,
    0.29, 0.285, 0.278, 0.292, 0.282, 0.295, 0.262, 0.255, 0.268, 0.26, 0.252, 0.293, 0.288, 0.295, 0.286, 0.291, 0.284, 0.278, 0.287, 0.272, 0.268, 0.275, 0.265, 0.27, 0.262, 0.258,
    0.24, 0.235, 0.228, 0.242, 0.232, 0.245, 0.238, 0.23, 0.212, 0.205, 0.218, 0.21, 0.202, 0.215, 0.243, 0.238, 0.245, 0.236, 0.241, 0.234, 0.228, 0.237, 0.222, 0.218, 0.225, 0.215, 0.22, 0.208,
    0.19, 0.185, 0.178, 0.192, 0.182, 0.195, 0.188, 0.18, 0.162, 0.155, 0.168, 0.16, 0.152, 0.165, 0.193, 0.188, 0.195, 0.186, 0.191, 0.184, 0.178, 0.187, 0.172, 0.168, 0.175, 0.165, 0.17, 0.158,
    0.14, 0.135, 0.128, 0.142, 0.132, 0.145, 0.138, 0.13, 0.143, 0.112, 0.105, 0.118, 0.11, 0.102, 0.115, 0.143, 0.138, 0.145, 0.136, 0.141, 0.134, 0.128, 0.137, 0.122, 0.118, 0.125, 0.115, 0.12, 0.108,
    0.09, 0.085, 0.078, 0.092, 0.082, 0.095, 0.088, 0.08, 0.093, 0.062, 0.055, 0.068, 0.06, 0.052, 0.065, 0.093, 0.088, 0.095, 0.086, 0.091, 0.084, 0.078, 0.087, 0.072, 0.068, 0.075, 0.065, 0.07, 0.062, 0.058,
    0.003, 0.005, 0.01, 0.02, 0.03, 0.04, 0.045, 0.025, 0.035, 0.04, 0.015, 0.012, 0.018, 0.045, 0.03, 0.03, 0.04, 0.02, 0.035, 0.01, 0.015, 0.004, 0.008, 0.005, 0.003, 0.012, 0.008, 0.045,
]

series_names = ["Normal state", "Attack state"]
x_tick_vals = [-10, -5, 0, 5, 10, 15, 20]
x_tick_text = ["-10", "-5", "0", "5", "10", "15", "20"]
y_tick_vals = [0, 0.1, 0.2, 0.3, 0.4, 0.5, 0.6, 0.7, 0.8, 0.9, 1]
ex_value = 2.5
three_en_left = -9.1

for a, b, nm in [(attack_upper_x, attack_upper_y, "attack_upper"),
                 (attack_dense_x, attack_dense_y, "attack_dense"),
                 (attack_lower_x, attack_lower_y, "attack_lower"),
                 (normal_upper_x, normal_upper_y, "normal_upper"),
                 (normal_dense_x, normal_dense_y, "normal_dense"),
                 (normal_lower_x, normal_lower_y, "normal_lower")]:
    assert len(a) == len(b), (nm, len(a), len(b))

attack_x = attack_upper_x + attack_dense_x + attack_lower_x
attack_y = attack_upper_y + attack_dense_y + attack_lower_y
normal_x = normal_upper_x + normal_dense_x + normal_lower_x
normal_y = normal_upper_y + normal_dense_y + normal_lower_y

BLUE = "#0072BD"
ORANGE = "#D95319"
INK = "#262626"
SERIF = "Liberation Serif, Times New Roman, serif"
MONO = "Liberation Mono, Courier New, monospace"

fig = go.Figure()
fig.add_trace(go.Scatter(
    x=normal_x, y=normal_y, mode="markers", name=series_names[0],
    marker=dict(symbol="circle", size=6, color=BLUE, line=dict(width=0)),
))
fig.add_trace(go.Scatter(
    x=attack_x, y=attack_y, mode="markers", name=series_names[1],
    marker=dict(symbol="star", size=10, color=ORANGE, line=dict(width=0)),
))

fig.add_shape(type="line", x0=ex_value, x1=ex_value, y0=0, y1=1,
              line=dict(color="black", width=1.5, dash="10px,5px"))
fig.add_shape(type="line", x0=three_en_left, x1=three_en_left, y0=0, y1=0.5,
              line=dict(color="black", width=1.2, dash="10px,5px"))

anns = [
    dict(x=ex_value, y=0.41, ax=three_en_left, ay=0.41, xref="x", yref="y",
         axref="x", ayref="y", showarrow=True, arrowhead=2, arrowside="end+start",
         arrowwidth=1.8, arrowsize=1.4, arrowcolor="black", text=""),
    dict(x=-6.2, y=0.444, xref="x", yref="y", text="3En", showarrow=False,
         font=dict(family=MONO, size=16, color="#444")),
    dict(x=-1.07, y=0.76, ax=-2.34, ay=0.80, xref="x", yref="y", axref="x", ayref="y",
         showarrow=True, arrowhead=2, arrowwidth=1.8, arrowsize=1.4, arrowcolor="black", text=""),
    dict(x=1.3, y=0.68, ax=2.83, ay=0.646, xref="x", yref="y", axref="x", ayref="y",
         showarrow=True, arrowhead=2, arrowwidth=1.8, arrowsize=1.4, arrowcolor="black", text=""),
    dict(x=-2.5, y=0.846, xref="x", yref="y", text="He", showarrow=False,
         font=dict(family=MONO, size=16, color="#444")),
    dict(x=ex_value, y=-0.022, xref="x", yref="paper", yanchor="top", text="Ex",
         showarrow=False, font=dict(family=MONO, size=15, color="#444")),
]
fig.update_layout(annotations=anns)

axis_common = dict(
    showline=True, linecolor=INK, linewidth=1, mirror="ticks",
    ticks="inside", ticklen=6, tickcolor=INK,
    showgrid=True, gridcolor="#e3e3e3", gridwidth=1, zeroline=False,
    tickfont=dict(family=SERIF, size=21, color=INK), automargin=False,
    ticklabeloverflow="allow",
)
fig.update_xaxes(range=[-10, 20], tickvals=x_tick_vals, ticktext=x_tick_text,
                 ticklabelstandoff=3,
                 title=dict(text="Number of packets of TCP traffic",
                            font=dict(family=SERIF, size=23, color=INK), standoff=11),
                 **axis_common)
fig.update_yaxes(range=[0, 1], tickvals=y_tick_vals,
                 title=dict(text="Degree of Certainty",
                            font=dict(family=SERIF, size=21, color=INK), standoff=11),
                 **axis_common)

# the page adds an 8px body margin, so the figure is sized to land the
# plot box at the same pixels as the reference
fig.update_layout(
    width=700, height=557,
    margin=dict(l=71, r=19, t=8, b=63),
    plot_bgcolor="white", paper_bgcolor="white",
    showlegend=True,
    legend=dict(x=0.675, y=0.963, xanchor="left", yanchor="top",
                bgcolor="white", bordercolor=INK, borderwidth=1,
                font=dict(family=SERIF, size=19, color=INK),
                itemwidth=60, tracegroupgap=0),
)

fig.write_html("out.html")
